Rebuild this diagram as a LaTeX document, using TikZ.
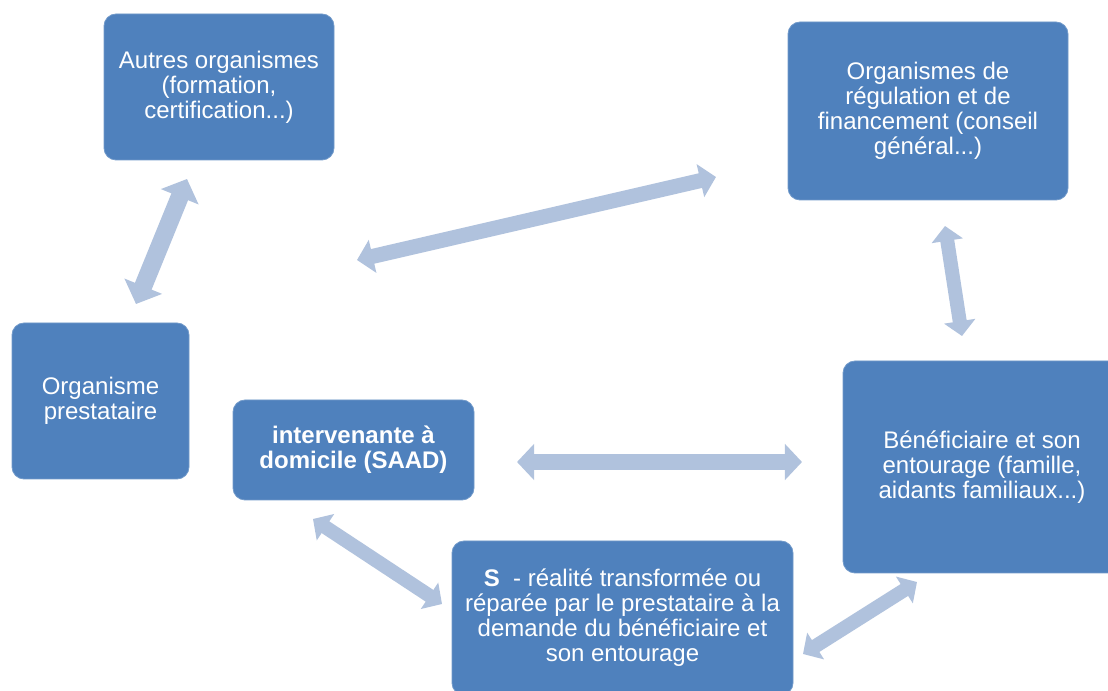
\documentclass[tikz,border=0pt]{standalone}
\usepackage{fontspec}
\setmainfont{Liberation Sans}
\usetikzlibrary{arrows.meta}
\definecolor{boxblue}{HTML}{4F81BD}
\definecolor{arrowblue}{HTML}{B0C2DD}
\tikzset{
  box/.style={rectangle, rounded corners=9pt, fill=boxblue, draw=boxblue!80!white,
    line width=0.6pt, text=white, align=center, inner sep=0pt,
    font=\fontsize{18}{18.75}\selectfont},
  dblarrow/.style={draw=arrowblue, line width=#1*0.75pt,
    {Triangle[width=#1*1.65pt, length=#1*0.8pt]}-{Triangle[width=#1*1.65pt, length=#1*0.8pt]}},
  dblarrow/.default=14
}
\begin{document}
\begin{tikzpicture}[x=0.75pt, y=-0.75pt]
\useasboundingbox (0,0) rectangle (1108,691);
\clip (0,0) rectangle (1108,691);
\fill[white] (0,0) rectangle (1108,691);
% boxes
\node[box, minimum width=172.5pt, minimum height=109.5pt] (autres) at (219,87)
  {Autres organismes\\(formation,\\certification...)};
\node[box, minimum width=210pt, minimum height=133.5pt] (regul) at (928,111)
  {Organismes de\\régulation et de\\financement (conseil\\général...)};
\node[box, minimum width=132.75pt, minimum height=117pt] (presta) at (100.5,401)
  {Organisme\\prestataire};
\node[box, minimum width=180.75pt, minimum height=75pt, font=\fontsize{18}{18.75}\selectfont\bfseries] (interv) at (353.5,450)
  {intervenante à\\domicile (SAAD)};
\node[box, minimum width=208.5pt, minimum height=159pt] (benef) at (982,467)
  {Bénéficiaire et son\\entourage (famille,\\aidants familiaux...)};
\node[box, minimum width=255.75pt, minimum height=115.5pt] (s) at (622.5,618)
  {\textbf{S}\ \ - réalité transformée ou\\réparée par le prestataire à la\\demande du bénéficiaire et\\son entourage};
% arrow end points
\coordinate (a1) at (187,179);
\coordinate (a2) at (136,304);
\coordinate (b1) at (357,260);
\coordinate (b2) at (716,177);
\coordinate (c1) at (945,226);
\coordinate (c2) at (962,336);
\coordinate (d1) at (517,462);
\coordinate (d2) at (802,462);
\coordinate (e1) at (313,519);
\coordinate (e2) at (442,604);
\coordinate (f1) at (803,654);
\coordinate (f2) at (917,582);
% arrows
\draw[dblarrow=18] (a1) -- (a2);
\draw[dblarrow=15] (b1) -- (b2);
\draw[dblarrow=14] (c1) -- (c2);
\draw[dblarrow=16] (d1) -- (d2);
\draw[dblarrow=14] (e1) -- (e2);
\draw[dblarrow=14] (f1) -- (f2);
\end{tikzpicture}
\end{document}
